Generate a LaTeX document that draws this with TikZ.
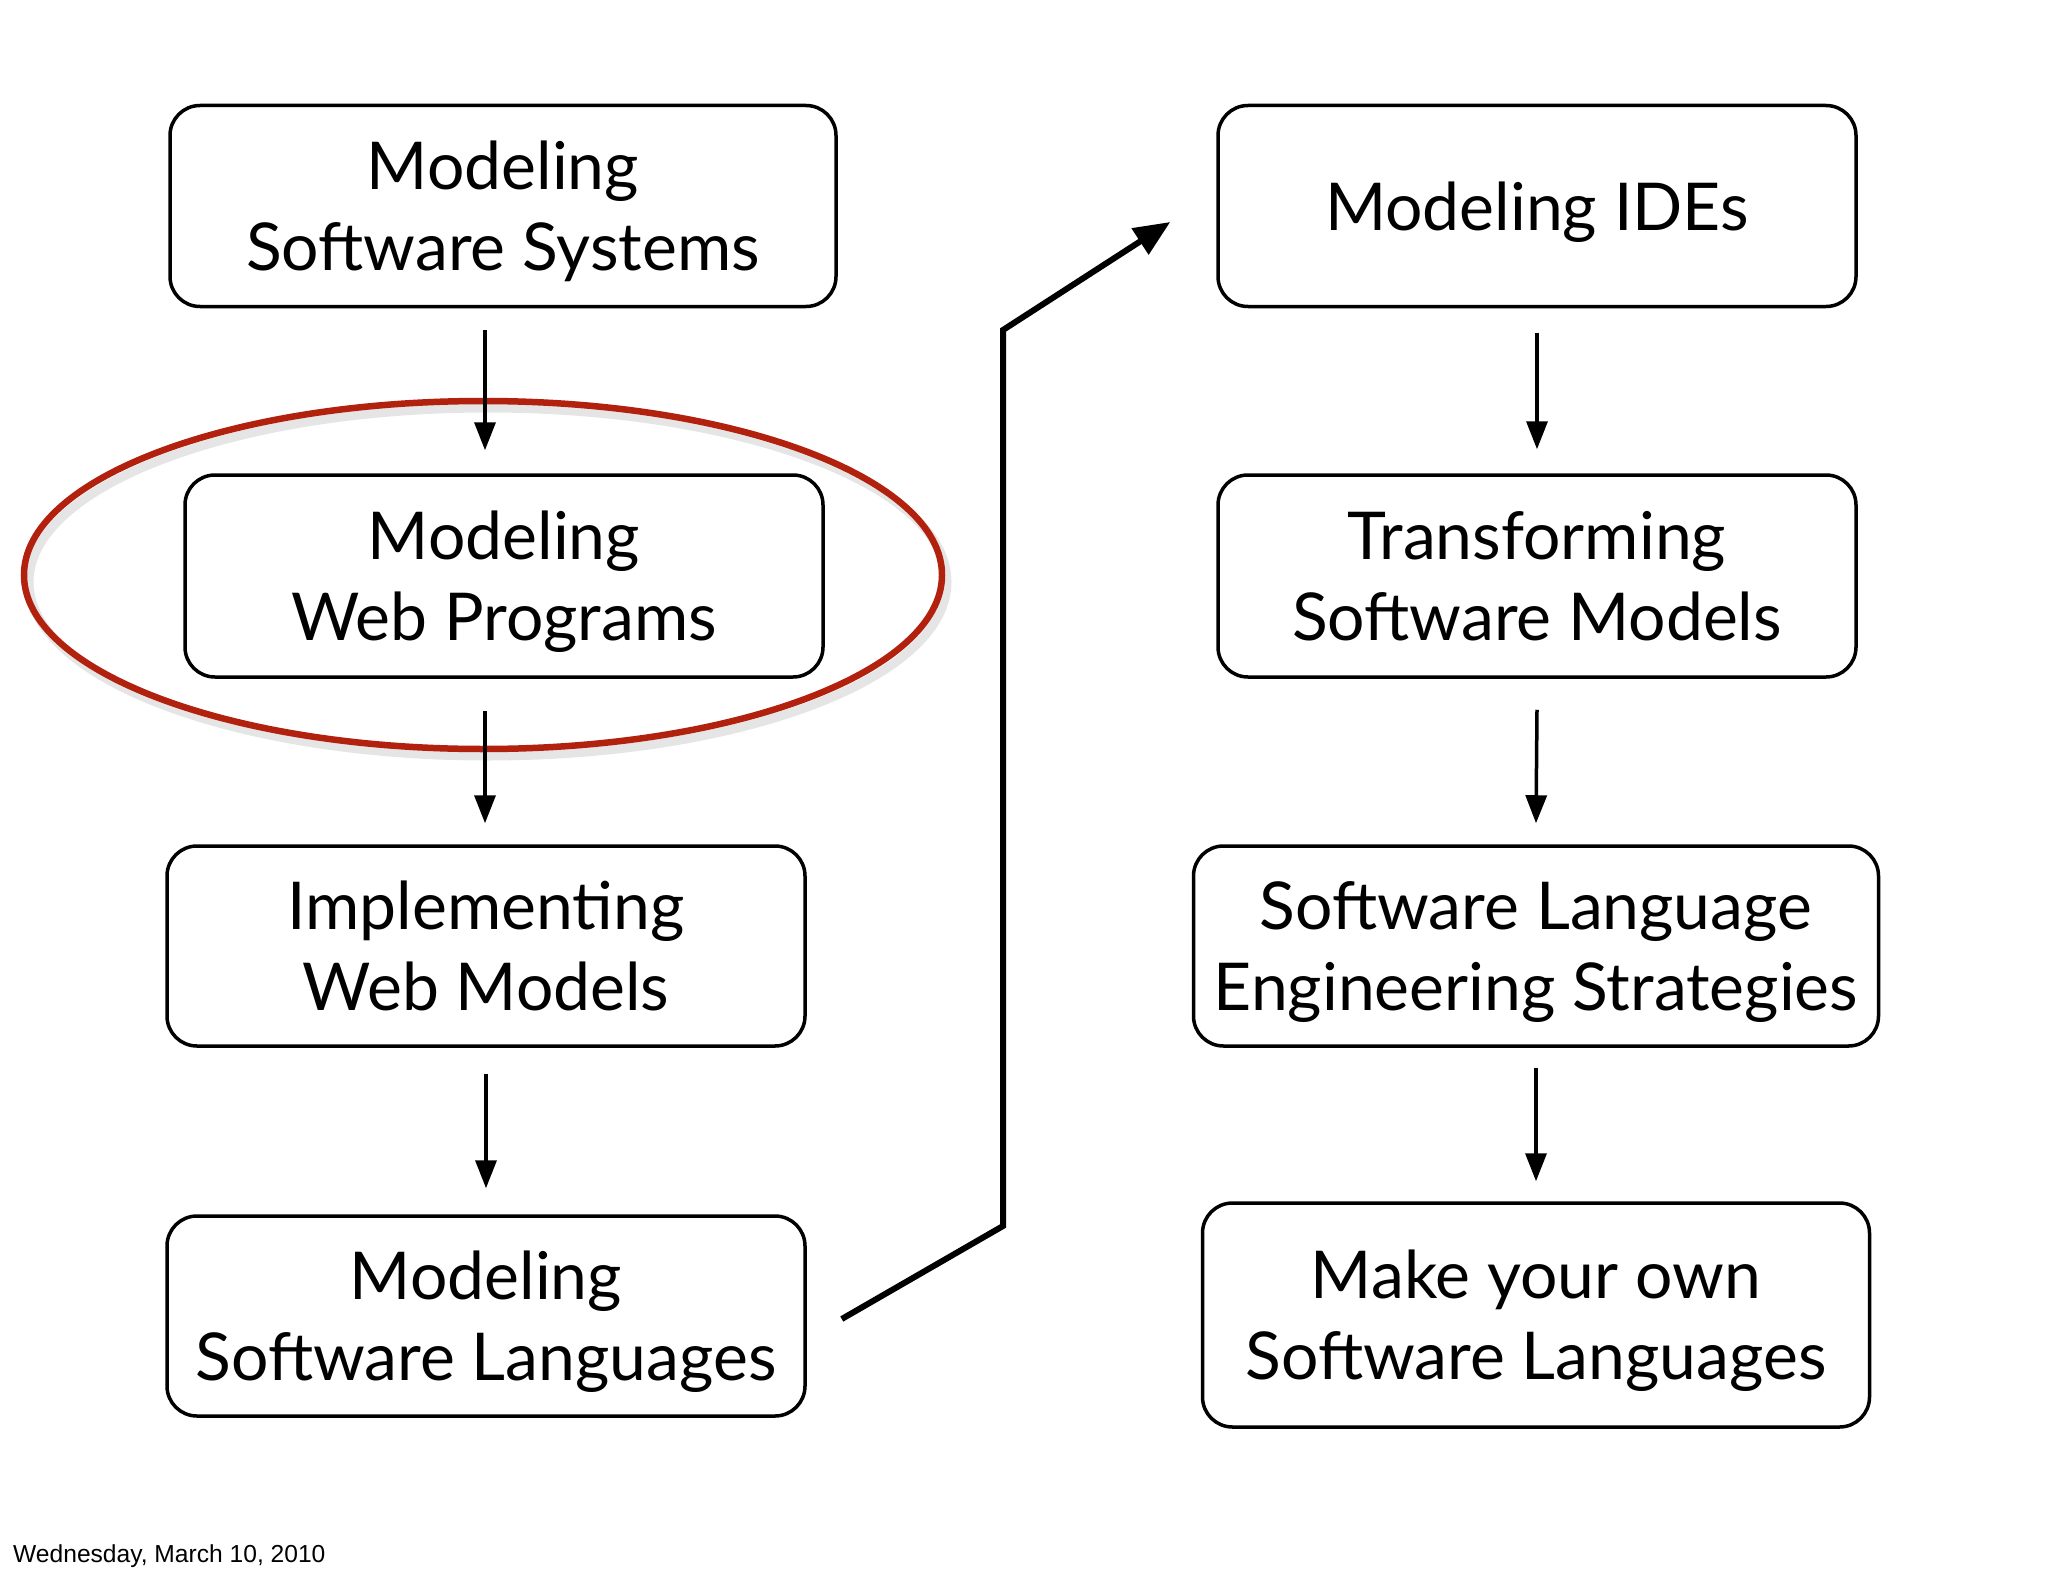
\documentclass[tikz,border=0pt]{standalone}
\usepackage{fontspec}
\setmainfont{Lato}
\usetikzlibrary{arrows.meta,calc}
\begin{document}
\begin{tikzpicture}[x=1pt,y=-1pt,
  stepbox/.style={draw=black,line width=3.5pt,rounded corners=30pt,align=center,
    inner sep=0pt,text depth=0pt,font=\fontsize{66}{81}\selectfont},
  flow/.style={line width=3.5pt,-{Triangle[length=28pt,width=21pt]}},
  bigflow/.style={line width=6pt,-{Triangle[length=36pt,width=30pt]}}]
\useasboundingbox[fill=white] (0,0) rectangle (2048,1576);
% highlight ellipse (shadow + red ring)
\draw[line width=9pt,black,opacity=0.10] (488,582) ellipse [x radius=459,y radius=174];
\node[stepbox,minimum width=666pt,minimum height=201pt] (A) at (503,206) {Modeling\\Software Systems};
\node[stepbox,minimum width=638pt,minimum height=202pt] (B) at (504,576) {Modeling\\Web Programs};
\node[stepbox,minimum width=638pt,minimum height=200pt] (C) at (486,946) {Implementing\\Web Models};
\node[stepbox,minimum width=638pt,minimum height=200pt] (D) at (486,1316) {Modeling\\Software Languages};
\node[stepbox,minimum width=638pt,minimum height=201pt] (E) at (1537,206) {Modeling IDEs};
\node[stepbox,minimum width=638pt,minimum height=202pt] (F) at (1537,576) {Transforming\\Software Models};
\node[stepbox,minimum width=685pt,minimum height=200pt] (G) at (1536,946) {Software Language\\Engineering Strategies};
\node[stepbox,minimum width=667pt,minimum height=224pt] (H) at (1536,1315) {Make your own\\Software Languages};
\draw[line width=6.5pt,color={rgb,255:red,178;green,32;blue,14}] (483,575) ellipse [x radius=459,y radius=174];
% connectors
\draw[flow] ([xshift=-18pt,yshift=-22pt]A.south) -- ([xshift=-19pt,yshift=23pt]B.north);
\draw[flow] ([xshift=-19pt,yshift=-32pt]B.south) -- ([xshift=-1pt,yshift=21pt]C.north);
\draw[flow] ([yshift=-26pt]C.south) -- ([yshift=26pt]D.north);
\draw[flow] ([yshift=-25pt]E.south) -- ([yshift=24pt]F.north);
\draw[flow] ([yshift=-31pt]F.south) -- ([yshift=21pt]G.north);
\draw[flow] ([yshift=-20pt]G.south) -- ([yshift=20pt]H.north);
\coordinate (k1) at (1003,1226);
\coordinate (k2) at (1003,330);
\draw[bigflow,line join=miter] ([xshift=35pt,yshift=-3pt]D.east) -- (k1) -- (k2) -- ([xshift=-46pt,yshift=-16pt]E.west);
% footer date
\node[anchor=base west,inner sep=0pt,font=\fontspec{Liberation Sans}\fontsize{24.6}{28}\selectfont] (date) at (13,1562) {Wednesday, March 10, 2010};
\end{tikzpicture}
\end{document}
